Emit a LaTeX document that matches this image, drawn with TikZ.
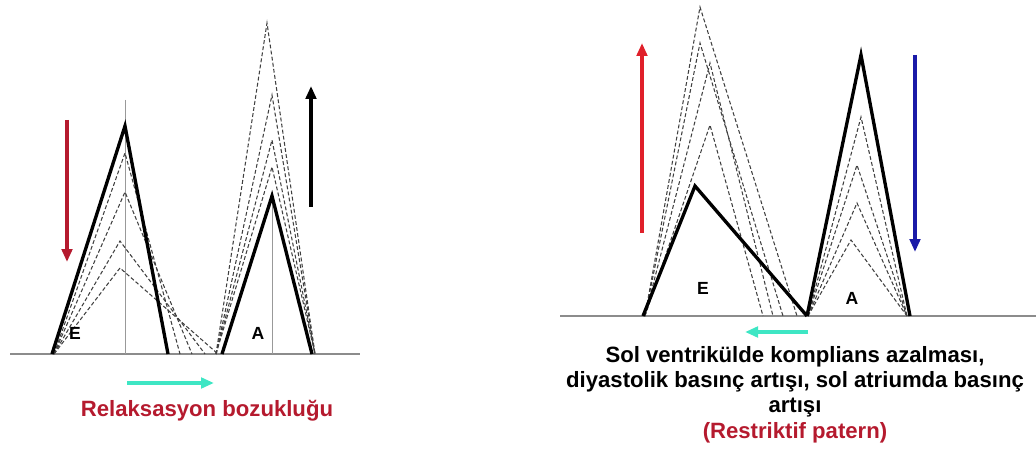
\documentclass[tikz,border=0pt]{standalone}
\usepackage{fontspec}
\setmainfont{Liberation Sans}
\usepackage{xcolor}
\usetikzlibrary{arrows.meta,positioning}
\definecolor{darkred}{HTML}{B51A2E}
\definecolor{brightred}{HTML}{E0202A}
\definecolor{navyblue}{HTML}{1A1AA8}
\definecolor{aqua}{HTML}{3EE6C4}

\begin{document}
\begin{tikzpicture}[
    x=0.02cm, y=-0.02cm,
    wave/.style={line width=1.9pt, line join=miter},
    trace/.style={dashed, dash pattern=on 2.2pt off 1.3pt, line width=0.6pt, black!75},
    baseline/.style={line width=1pt, black!45},
    guide/.style={line width=0.4pt, black!40},
    vec/.style={-{Triangle[length=2.6mm, width=2.1mm]}, line width=1.9pt},
    peak/.style={font=\bfseries},
    caption/.style={font=\bfseries\fontsize{12.6}{14.2}\selectfont, align=center, inner sep=0pt}
]
\useasboundingbox (0,0) rectangle (1036,459);

% left panel: relaxation abnormality
\draw[baseline] (10,354) -- (360,354);
\draw[guide] (125,100) -- (125,354);
\draw[guide] (272,196) -- (272,354);
\foreach \px/\py/\ex in {125/153/180, 125/192/192, 120/241/205, 120/268/218}
  \draw[trace] (54,354) -- (\px,\py) -- (\ex,354);
\foreach \px/\py in {267/23, 272/95, 272/140, 272/167}
  \draw[trace] (216,354) -- (\px,\py) -- (315,354);
\draw[wave] (52,354) -- (125,126) -- (168,354);
\draw[wave] (222,354) -- (272,196) -- (312,354);
\node[peak] (eleft) at (75,333) {E};
\node[peak] (aleft) at (258,333) {A};
\draw[vec, darkred] (67,120) -- (67,262);
\draw[vec, black] (311,207) -- (311,86);
\draw[vec, aqua] (127,383) -- (214,383);
\node[caption, text=darkred] (relax) at (207,411) {Relaksasyon bozukluğu};

% right panel: restrictive pattern
\draw[baseline] (560,316) -- (1036,316);
\foreach \px/\py/\ex in {700/7/797, 700/43/783, 710/63/773, 710/125/763}
  \draw[trace] (645,316) -- (\px,\py) -- (\ex,316);
\foreach \px/\py in {861/117, 857/165, 857/203, 851/240}
  \draw[trace] (808,316) -- (\px,\py) -- (907,316);
\draw[wave] (643,316) -- (695,186) -- (807,316);
\draw[wave] (807,316) -- (861,55) -- (910,316);
\node[peak] (eright) at (703,288) {E};
\node[peak] (aright) at (852,298) {A};
\draw[vec, brightred] (642,233) -- (642,43);
\draw[vec, navyblue] (915,55) -- (915,252);
\draw[vec, aqua] (808,332) -- (745,332);
\node[caption] (restr) at (795,382) {Sol ventrikülde komplians azalması,\\diyastolik basınç artışı, sol atriumda basınç\\artışı};
\node[caption, text=darkred, below=2.5pt of restr] (pattern) {(Restriktif patern)};
\end{tikzpicture}
\end{document}
